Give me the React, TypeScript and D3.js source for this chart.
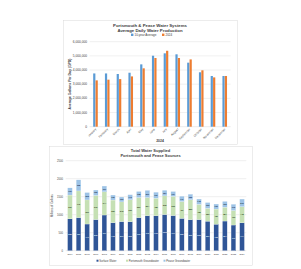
import { scaleBand, scaleLinear, stack } from "d3";

// ---- top chart data: average daily production (gallons per day)
const months = [
  "January", "February", "March", "April", "May", "June",
  "July", "August", "September", "October", "November", "December",
];
const tenYearAvg = [3760000, 3760000, 3720000, 3810000, 4400000, 5010000, 5180000, 5110000, 4520000, 3840000, 3580000, 3580000];
const avg2024 = [3270000, 3320000, 3360000, 3550000, 4120000, 4850000, 5360000, 4850000, 4750000, 3980000, 3480000, 3580000];
const gpdTicks = [0, 1000000, 2000000, 3000000, 4000000, 5000000, 6000000];

// ---- bottom chart data: total water supplied (millions of gallons)
const years = [
  "2004", "2005", "2006", "2007", "2008", "2009", "2010", "2011", "2012", "2013", "2014",
  "2015", "2016", "2017", "2018", "2019", "2020", "2021", "2022", "2023", "2024",
];
const surfaceWater = [885, 920, 741, 865, 991, 778, 810, 806, 920, 972, 972, 1005, 977, 898, 862, 865, 820, 736, 824, 713, 774];
const portsmouthGW = [661, 740, 669, 670, 644, 629, 545, 609, 557, 504, 486, 518, 533, 467, 553, 422, 356, 421, 384, 403, 448];
const peaseGW = [199, 308, 205, 150, 161, 139, 136, 140, 168, 200, 167, 157, 134, 149, 155, 148, 162, 139, 162, 175, 213];
const mgTicks = [0, 500, 1000, 1500, 2000, 2500];

const FONT = "'Liberation Sans', 'DejaVu Sans', sans-serif";
const GRID = "#d9d9d9";
const TXT = "#404040";

function TopChart() {
  const x = scaleBand<string>().domain(months).range([89.6, 230.6]);
  const sub = scaleBand<string>().domain(["avg", "2024"]).range([-2.3, 2.3]).paddingInner(0.08);
  const y = scaleLinear().domain([0, 6000000]).range([126.7, 41.7]);
  const fmt = (v: number) => v.toLocaleString("en-US");
  const series = [
    { key: "avg", label: "10-year Average", values: tenYearAvg, color: "#5B9BD5" },
    { key: "2024", label: "2024", values: avg2024, color: "#ED7D31" },
  ];
  return (
    <g>
      <rect x={63.5} y={20.5} width={174} height={124} fill="#fff" stroke={GRID} strokeWidth={0.5} />
      <text x={150} y={26.5} textAnchor="middle" fontSize={4.3} fontWeight="bold" fill={TXT}>
        Portsmouth &amp; Pease Water Systems
      </text>
      <text x={150} y={31.5} textAnchor="middle" fontSize={4.3} fontWeight="bold" fill={TXT}>
        Average Daily Water Production
      </text>
      {/* legend */}
      <rect x={131} y={33.6} width={2.4} height={2.4} fill={series[0].color} />
      <text x={134.5} y={35.9} fontSize={3} fill={TXT}>{series[0].label}</text>
      <rect x={162} y={33.6} width={2.4} height={2.4} fill={series[1].color} />
      <text x={165.5} y={35.9} fontSize={3} fill={TXT}>{series[1].label}</text>
      {gpdTicks.map((t) => (
        <g key={t}>
          {t > 0 && <line x1={89.6} x2={230.6} y1={y(t)} y2={y(t)} stroke={GRID} strokeWidth={0.4} />}
          <text x={87} y={y(t) + 1.1} textAnchor="end" fontSize={3.2} fill={TXT}>{fmt(t)}</text>
        </g>
      ))}
      <line x1={89.6} x2={230.6} y1={y(0)} y2={y(0)} stroke={GRID} strokeWidth={0.5} />
      {series.map((s) =>
        s.values.map((v, i) => (
          <rect
            key={s.key + i}
            x={(x(months[i]) ?? 0) + x.bandwidth() / 2 + (sub(s.key) ?? 0)}
            y={y(v)}
            width={sub.bandwidth()}
            height={y(0) - y(v)}
            fill={s.color}
          />
        ))
      )}
      {months.map((m) => {
        const cx = (x(m) ?? 0) + x.bandwidth() / 2;
        return (
          <text key={m} transform={`translate(${cx + 1},129.5) rotate(-45)`} textAnchor="end" fontSize={3} fill={TXT}>
            {m}
          </text>
        );
      })}
      <text x={160} y={142} textAnchor="middle" fontSize={3.4} fontWeight="bold" fill={TXT}>2024</text>
      <text transform="translate(71,84) rotate(-90)" textAnchor="middle" fontSize={3.4} fontWeight="bold" fill={TXT}>
        Average Gallons Per Day (GPD)
      </text>
    </g>
  );
}

function BottomChart() {
  const x = scaleBand<string>().domain(years).range([65.7, 246.3]).paddingInner(0.45).paddingOuter(0.22);
  const y = scaleLinear().domain([0, 2500]).range([250.7, 160.7]);
  const rows = years.map((yr, i) => ({ year: yr, surface: surfaceWater[i], portsmouth: portsmouthGW[i], pease: peaseGW[i] }));
  const keys = ["surface", "portsmouth", "pease"] as const;
  const colors: Record<string, string> = { surface: "#2F5597", portsmouth: "#C5E0B4", pease: "#9DC3E6" };
  const labelColors: Record<string, string> = { surface: "#dfe8f5", portsmouth: "#2b3a22", pease: "#1f3350" };
  const names: Record<string, string> = {
    surface: "Surface Water",
    portsmouth: "Portsmouth Groundwater",
    pease: "Pease Groundwater",
  };
  const layers = stack<(typeof rows)[number]>().keys(keys as unknown as string[])(rows);
  const legendX = [96.5, 126, 163.5];
  return (
    <g>
      <rect x={49.5} y={146.5} width={203} height={119} fill="#fff" stroke={GRID} strokeWidth={0.5} />
      <text x={150.5} y={152} textAnchor="middle" fontSize={4} fontWeight="bold" fill={TXT}>Total Water Supplied</text>
      <text x={150.5} y={156.8} textAnchor="middle" fontSize={4} fontWeight="bold" fill={TXT}>Portsmouth and Pease Sources</text>
      {mgTicks.map((t) => (
        <g key={t}>
          {t > 0 && <line x1={65.7} x2={246.3} y1={y(t)} y2={y(t)} stroke={GRID} strokeWidth={0.4} />}
          <text x={63} y={y(t) + 0.9} textAnchor="end" fontSize={2.7} fill={TXT}>{t}</text>
        </g>
      ))}
      <line x1={65.7} x2={246.3} y1={y(0)} y2={y(0)} stroke={GRID} strokeWidth={0.5} />
      {layers.map((layer) =>
        layer.map((d, i) => {
          const bx = x(years[i]) ?? 0;
          const y0 = y(d[0]);
          const y1 = y(d[1]);
          const v = d[1] - d[0];
          return (
            <g key={layer.key + i}>
              <rect x={bx} y={y1} width={x.bandwidth()} height={y0 - y1} fill={colors[layer.key]} stroke="#fff" strokeWidth={0.2} />
              <text
                x={bx + x.bandwidth() / 2}
                y={(y0 + y1) / 2 + 0.7}
                textAnchor="middle"
                fontSize={2}
                fontWeight="bold"
                fill={labelColors[layer.key]}
              >
                {Math.round(v)}
              </text>
            </g>
          );
        })
      )}
      {years.map((yr) => (
        <text key={yr} x={(x(yr) ?? 0) + x.bandwidth() / 2} y={255.3} textAnchor="middle" fontSize={2.3} fill={TXT}>
          {yr}
        </text>
      ))}
      <text transform="translate(52.5,205.7) rotate(-90)" textAnchor="middle" fontSize={2.8} fill={TXT}>
        Millions of Gallons
      </text>
      {keys.map((k, i) => (
        <g key={k}>
          <rect x={legendX[i]} y={259.7} width={2} height={2} fill={colors[k]} />
          <text x={legendX[i] + 2.8} y={261.6} fontSize={2.7} fill={TXT}>{names[k]}</text>
        </g>
      ))}
    </g>
  );
}

export default function App() {
  return (
    <svg
      width={301}
      height={269}
      viewBox="0 0 301 269"
      style={{ position: "absolute", left: 0, top: 0, background: "#fff" }}
      fontFamily={FONT}
    >
      <rect width={301} height={269} fill="#fff" />
      <TopChart />
      <BottomChart />
    </svg>
  );
}
